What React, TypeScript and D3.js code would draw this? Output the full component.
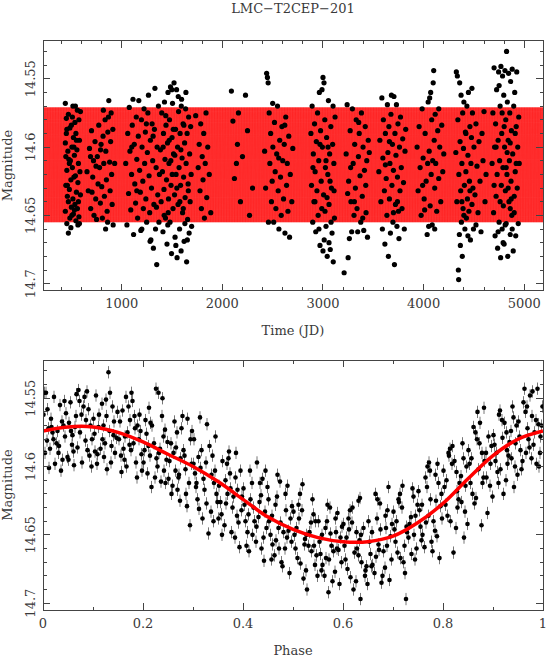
import React from "react";
import * as d3 from "d3";

const W = 547;
const H = 659;
const FONT = "'DejaVu Serif', serif";
const INK = "#3a3a3a";

// fitted model light curve
const modelPhase = [0, 0.05, 0.1, 0.15, 0.2, 0.25, 0.3, 0.35, 0.4, 0.45, 0.5, 0.55, 0.6, 0.65, 0.7, 0.75, 0.8, 0.85, 0.9, 0.95, 1];
const modelMag = [14.574, 14.571, 14.571, 14.575, 14.582, 14.591, 14.6, 14.611, 14.624, 14.637, 14.646, 14.652, 14.655, 14.655, 14.651, 14.641, 14.627, 14.609, 14.592, 14.58, 14.574];
const MODEL_PERIOD = 6.1; // days, only used to repeat the model along the time axis

const timeTicks = [1000, 2000, 3000, 4000, 5000];
const magTicks = [14.55, 14.6, 14.65, 14.7];
const phaseTicks = [0, 0.2, 0.4, 0.6, 0.8, 1];
const PHASE_ERR = 0.0045;

// observations: [time (JD), magnitude], one list per observing season
const seasonA: [number, number][] = [[440,14.568],[515,14.570],[560,14.573],[470,14.576],[590,14.574],[450,14.579],[535,14.582],[500,14.584],[575,14.580],[455,14.587],[545,14.590],[485,14.586],[520,14.593],[580,14.595],[440,14.597],[505,14.600],[465,14.603],[555,14.602],[445,14.607],[530,14.606],[490,14.610],[570,14.612],[475,14.609],[510,14.615],[585,14.618],[455,14.617],[540,14.621],[495,14.624],[565,14.626],[445,14.628],[525,14.622],[480,14.631],[550,14.633],[460,14.636],[515,14.638],[590,14.635],[470,14.640],[535,14.642],[500,14.644],[560,14.645],[440,14.647],[520,14.649],[575,14.651],[485,14.652],[545,14.654],[455,14.656],[505,14.650],[565,14.657],[495,14.659],[470,14.663],[530,14.646],[580,14.656],[460,14.628],[550,14.595],[510,14.578],[450,14.590],[540,14.570],[480,14.612],[570,14.640],[525,14.600]];
const seasonB: [number, number][] = [[655,14.618],[668,14.632],[680,14.601],[692,14.645],[700,14.588],[712,14.622],[720,14.610],[735,14.596],[742,14.638],[750,14.653],[758,14.607],[765,14.627],[772,14.584],[780,14.615],[788,14.641],[795,14.598],[802,14.629],[808,14.652],[815,14.592],[822,14.612],[828,14.636],[835,14.580],[842,14.603],[848,14.624],[855,14.647],[862,14.589],[868,14.578],[872,14.566],[880,14.611],[885,14.632],[890,14.596],[895,14.575],[900,14.620],[905,14.642],[912,14.587],[860,14.655],[790,14.602],[745,14.614],[705,14.633],[690,14.607],[725,14.650],[818,14.573],[840,14.660],[915,14.657],[930,14.612]];
const seasonC: [number, number][] = [[1040,14.612],[1052,14.657],[1060,14.590],[1068,14.634],[1075,14.571],[1082,14.603],[1090,14.646],[1098,14.620],[1105,14.584],[1112,14.565],[1118,14.664],[1125,14.598],[1130,14.627],[1138,14.641],[1145,14.578],[1150,14.609],[1158,14.652],[1165,14.592],[1170,14.566],[1178,14.617],[1185,14.633],[1190,14.661],[1196,14.580],[1202,14.600],[1210,14.625],[1215,14.645],[1222,14.572],[1228,14.612],[1235,14.589],[1240,14.638],[1248,14.655],[1255,14.604],[1260,14.575],[1266,14.562],[1272,14.621],[1278,14.648],[1285,14.595],[1290,14.668],[1296,14.630],[1302,14.583],[1308,14.610],[1315,14.674],[1320,14.642],[1325,14.587],[1330,14.557],[1336,14.660],[1342,14.615],[1348,14.686],[1352,14.600],[1358,14.635],[1365,14.570],[1370,14.655],[1375,14.620],[1200,14.660],[1150,14.632],[1100,14.600],[1245,14.583],[1282,14.669],[1312,14.592],[1345,14.644]];
const seasonD: [number, number][] = [[1385,14.602],[1392,14.640],[1398,14.575],[1405,14.618],[1410,14.662],[1415,14.590],[1420,14.631],[1425,14.567],[1430,14.609],[1435,14.652],[1440,14.584],[1445,14.624],[1450,14.671],[1455,14.597],[1460,14.560],[1465,14.638],[1470,14.612],[1475,14.580],[1480,14.655],[1485,14.556],[1490,14.628],[1495,14.678],[1500,14.593],[1505,14.568],[1510,14.645],[1515,14.605],[1520,14.553],[1525,14.635],[1530,14.666],[1535,14.587],[1540,14.620],[1545,14.558],[1550,14.681],[1555,14.600],[1560,14.642],[1565,14.574],[1570,14.615],[1575,14.660],[1580,14.590],[1585,14.628],[1590,14.676],[1595,14.565],[1600,14.608],[1605,14.648],[1610,14.583],[1615,14.622],[1620,14.669],[1625,14.597],[1630,14.637],[1635,14.572],[1640,14.612],[1645,14.684],[1650,14.590],[1655,14.653],[1660,14.627],[1665,14.578],[1670,14.663],[1675,14.605],[1680,14.640],[1685,14.585],[1690,14.620],[1695,14.658],[1412,14.600],[1438,14.577],[1462,14.648],[1488,14.610],[1512,14.587],[1538,14.672],[1562,14.563],[1588,14.602],[1612,14.645],[1638,14.560],[1662,14.632],[1458,14.657],[1502,14.620],[1548,14.630],[1592,14.570],[1628,14.656],[1472,14.595],[1528,14.606],[1578,14.640],[1618,14.584],[1652,14.668],[1422,14.650],[1498,14.558]];
const seasonE: [number, number][] = [[1735,14.577],[1760,14.615],[1770,14.598],[1778,14.632],[1785,14.583],[1792,14.645],[1800,14.607],[1808,14.624],[1815,14.590],[1822,14.652],[1830,14.612],[1838,14.575],[1845,14.637],[1855,14.600],[1870,14.620],[1885,14.648]];
const seasonF: [number, number][] = [[2090,14.559],[2230,14.562],[2105,14.581],[2150,14.598],[2120,14.623],[2180,14.640],[2140,14.612],[2200,14.607],[2250,14.588],[2270,14.650],[2300,14.630],[2160,14.575]];
const seasonG: [number, number][] = [[2440,14.546],[2448,14.549],[2455,14.553],[2465,14.575],[2472,14.612],[2480,14.590],[2488,14.640],[2495,14.625],[2502,14.600],[2510,14.655],[2518,14.582],[2525,14.618],[2532,14.645],[2540,14.605],[2548,14.570],[2555,14.632],[2562,14.660],[2570,14.595],[2578,14.622],[2585,14.650],[2592,14.585],[2600,14.610],[2608,14.638],[2615,14.598],[2622,14.663],[2630,14.578],[2638,14.628],[2645,14.612],[2652,14.647],[2660,14.592],[2668,14.666],[2675,14.620],[2420,14.603],[2430,14.630],[2458,14.655],[2500,14.568],[2560,14.608],[2620,14.584],[2690,14.640],[2700,14.601]];
const seasonH: [number, number][] = [[2880,14.590],[2886,14.628],[2892,14.570],[2898,14.655],[2904,14.605],[2910,14.640],[2916,14.583],[2922,14.618],[2928,14.662],[2934,14.596],[2940,14.632],[2946,14.575],[2952,14.650],[2958,14.610],[2964,14.560],[2970,14.672],[2976,14.588],[2982,14.625],[2988,14.645],[2994,14.600],[3000,14.549],[3006,14.635],[3012,14.668],[3018,14.580],[3024,14.615],[3030,14.658],[3036,14.593],[3042,14.680],[3048,14.620],[3054,14.566],[3060,14.642],[3066,14.605],[3072,14.675],[3078,14.585],[3084,14.630],[3090,14.663],[3096,14.598],[3102,14.684],[3108,14.612],[3114,14.652],[3120,14.578],[2990,14.558],[3010,14.553],[2960,14.660],[3050,14.600],[3000,14.676],[3070,14.625],[2920,14.640],[3100,14.570],[3030,14.610],[2900,14.615],[3060,14.670],[2970,14.598],[3040,14.637],[3080,14.655],[3110,14.632],[3020,14.647]];
const seasonI: [number, number][] = [[3210,14.692],[3250,14.681],[3230,14.605],[3240,14.569],[3255,14.625],[3262,14.667],[3270,14.588],[3278,14.640],[3285,14.662],[3292,14.572],[3300,14.612],[3308,14.650],[3315,14.598],[3322,14.630],[3330,14.580],[3338,14.645],[3345,14.662],[3352,14.607],[3360,14.590],[3368,14.621],[3375,14.655],[3382,14.575],[3390,14.636],[3398,14.600],[3405,14.661],[3412,14.617],[3420,14.585],[3428,14.648],[3435,14.610],[3442,14.666],[3450,14.595],[3245,14.634],[3275,14.615],[3312,14.640],[3355,14.582],[3395,14.652],[3425,14.628],[3460,14.604]];
const seasonJ: [number, number][] = [[3555,14.618],[3565,14.595],[3575,14.640],[3585,14.564],[3590,14.660],[3595,14.608],[3600,14.580],[3610,14.632],[3615,14.671],[3620,14.590],[3628,14.623],[3635,14.650],[3640,14.569],[3645,14.604],[3650,14.680],[3655,14.585],[3660,14.638],[3665,14.612],[3670,14.663],[3675,14.576],[3680,14.562],[3685,14.628],[3690,14.598],[3695,14.655],[3700,14.617],[3705,14.563],[3710,14.686],[3715,14.590],[3720,14.642],[3725,14.606],[3730,14.569],[3735,14.658],[3740,14.622],[3745,14.583],[3750,14.647],[3755,14.667],[3760,14.600],[3765,14.632],[3770,14.578],[3778,14.615],[3785,14.645],[3792,14.594],[3800,14.626],[3808,14.660],[3815,14.603],[3822,14.587],[3660,14.596],[3700,14.648],[3740,14.640],[3620,14.613]];
const seasonK: [number, number][] = [[3935,14.600],[3945,14.632],[3955,14.585],[3965,14.615],[3975,14.650],[3985,14.572],[3995,14.608],[4005,14.638],[4015,14.590],[4025,14.625],[4035,14.664],[4045,14.567],[4050,14.658],[4055,14.603],[4060,14.564],[4065,14.643],[4070,14.560],[4075,14.620],[4080,14.580],[4085,14.657],[4090,14.610],[4095,14.553],[4100,14.544],[4105,14.595],[4110,14.630],[4115,14.576],[4120,14.612],[4130,14.647],[4140,14.588],[4150,14.623],[4160,14.600],[4170,14.640],[4180,14.584],[4190,14.618],[4200,14.605],[4040,14.612],[4010,14.646],[4110,14.660],[4150,14.572],[3990,14.628]];
const seasonL: [number, number][] = [[4320,14.604],[4325,14.545],[4330,14.640],[4335,14.548],[4340,14.580],[4345,14.690],[4348,14.697],[4350,14.620],[4355,14.664],[4358,14.553],[4362,14.596],[4365,14.672],[4368,14.632],[4372,14.562],[4375,14.655],[4380,14.612],[4384,14.680],[4388,14.575],[4392,14.645],[4396,14.601],[4400,14.567],[4405,14.628],[4410,14.660],[4415,14.589],[4420,14.618],[4425,14.652],[4430,14.570],[4435,14.638],[4440,14.606],[4445,14.560],[4450,14.647],[4455,14.625],[4460,14.585],[4465,14.668],[4470,14.612],[4475,14.593],[4480,14.642],[4485,14.575],[4490,14.630],[4495,14.660],[4500,14.600],[4510,14.635],[4520,14.583],[4530,14.614],[4540,14.648],[4550,14.596],[4560,14.625],[4570,14.662],[4580,14.590],[4590,14.610],[4600,14.574],[4610,14.640],[4620,14.620],[4440,14.665],[4380,14.640],[4420,14.590],[4460,14.632],[4480,14.557],[4400,14.650],[4520,14.657]];
const seasonM: [number, number][] = [[4680,14.612],[4688,14.575],[4695,14.648],[4700,14.542],[4705,14.600],[4710,14.665],[4715,14.583],[4720,14.636],[4725,14.558],[4730,14.620],[4735,14.674],[4740,14.595],[4745,14.545],[4750,14.655],[4755,14.610],[4760,14.570],[4765,14.681],[4768,14.541],[4772,14.628],[4776,14.590],[4780,14.660],[4784,14.548],[4788,14.615],[4792,14.643],[4796,14.562],[4800,14.671],[4804,14.600],[4808,14.544],[4812,14.632],[4816,14.580],[4820,14.656],[4824,14.530],[4828,14.620],[4832,14.567],[4836,14.680],[4840,14.595],[4844,14.546],[4848,14.640],[4852,14.610],[4856,14.575],[4860,14.664],[4864,14.552],[4868,14.625],[4872,14.588],[4876,14.650],[4880,14.543],[4885,14.605],[4890,14.676],[4895,14.570],[4900,14.636],[4905,14.560],[4910,14.618],[4915,14.665],[4920,14.585],[4925,14.545],[4930,14.630],[4935,14.600],[4940,14.656],[4945,14.578],[4950,14.612],[4720,14.600],[4760,14.640],[4800,14.585],[4840,14.630],[4880,14.660],[4920,14.612],[4750,14.555],[4790,14.670],[4830,14.604],[4870,14.638],[4910,14.590],[4700,14.628],[4740,14.662],[4780,14.575],[4820,14.615],[4860,14.597],[4900,14.648],[4860,14.645],[4810,14.657]];

// phased observations: [phase, magnitude]
const phasedMax: [number, number][] = [[0.003,14.546],[0.017,14.571],[0.009,14.558],[0.031,14.590],[0.001,14.562],[0.044,14.578],[0.022,14.549],[0.012,14.601],[0.038,14.567],[0.027,14.583],[0.006,14.546],[0.049,14.593],[0.019,14.575],[0.034,14.555],[0.014,14.587],[0.041,14.570],[0.024,14.598],[0.008,14.581],[0.046,14.561],[0.029,14.574],[0.016,14.565],[0.036,14.603],[0.004,14.590],[0.021,14.580],[0.043,14.552],[0.032,14.585],[0.011,14.572],[0.039,14.595],
[0.052,14.568],[0.067,14.547],[0.058,14.584],[0.081,14.556],[0.093,14.592],[0.074,14.575],[0.062,14.599],[0.086,14.566],[0.055,14.553],[0.098,14.580],[0.071,14.544],[0.064,14.571],[0.089,14.588],[0.077,14.562],[0.051,14.595],[0.083,14.549],[0.069,14.586],[0.095,14.570],[0.059,14.577],[0.078,14.597],[0.091,14.558],[0.066,14.563],[0.085,14.581],[0.073,14.552],[0.097,14.600],[0.056,14.574],[0.088,14.545],[0.061,14.589],
[0.103,14.576],[0.118,14.554],[0.109,14.591],[0.131,14.531],[0.142,14.567],[0.124,14.583],[0.112,14.562],[0.136,14.597],[0.106,14.548],[0.147,14.579],[0.121,14.570],[0.128,14.602],[0.139,14.556],[0.115,14.587],[0.101,14.565],[0.144,14.590],[0.126,14.551],[0.133,14.574],[0.108,14.598],[0.149,14.560],[0.119,14.580],[0.137,14.585],[0.111,14.571],[0.127,14.563],[0.141,14.577],[0.104,14.589],[0.122,14.593],[0.134,14.546],
[0.152,14.580],[0.171,14.556],[0.163,14.595],[0.184,14.572],[0.157,14.604],[0.193,14.562],[0.176,14.588],[0.166,14.549],[0.188,14.608],[0.154,14.567],[0.181,14.583],[0.197,14.591],[0.169,14.575],[0.159,14.559],[0.186,14.597],[0.174,14.566],[0.192,14.580],[0.161,14.587],[0.179,14.552],[0.195,14.574],[0.167,14.600],[0.183,14.563],[0.156,14.592],[0.173,14.584],[0.189,14.570],[0.164,14.578],[0.198,14.603],[0.177,14.546],
[0.203,14.588],[0.218,14.570],[0.226,14.543],[0.209,14.605],[0.241,14.578],[0.231,14.546],[0.214,14.592],[0.236,14.611],[0.205,14.566],[0.247,14.595],[0.222,14.583],[0.229,14.600],[0.212,14.557],[0.244,14.573],[0.217,14.615],[0.234,14.587],[0.201,14.597],[0.238,14.563],[0.224,14.608],[0.249,14.582],[0.207,14.576],[0.232,14.590],[0.245,14.612],[0.215,14.568],[0.227,14.594],[0.239,14.550],[0.211,14.585],[0.242,14.603]];
const phasedDecline: [number, number][] = [[0.253,14.596],[0.268,14.575],[0.259,14.614],[0.281,14.588],[0.294,14.643],[0.272,14.606],[0.263,14.567],[0.286,14.620],[0.256,14.583],[0.297,14.598],[0.277,14.572],[0.265,14.603],[0.289,14.565],[0.274,14.625],[0.251,14.609],[0.283,14.592],[0.269,14.617],[0.295,14.580],[0.261,14.590],[0.279,14.563],[0.292,14.612],[0.266,14.586],[0.285,14.602],[0.257,14.620],[0.275,14.594],[0.298,14.574],[0.271,14.608],[0.288,14.629],
[0.304,14.605],[0.317,14.588],[0.309,14.624],[0.331,14.649],[0.342,14.612],[0.314,14.564],[0.326,14.597],[0.336,14.633],[0.302,14.580],[0.347,14.620],[0.321,14.609],[0.312,14.631],[0.339,14.592],[0.328,14.569],[0.306,14.615],[0.344,14.603],[0.319,14.638],[0.333,14.585],[0.301,14.598],[0.349,14.626],[0.323,14.617],[0.337,14.606],[0.311,14.593],[0.345,14.578],[0.327,14.627],[0.315,14.601],[0.341,14.640],[0.307,14.612],
[0.352,14.614],[0.368,14.598],[0.357,14.635],[0.381,14.622],[0.393,14.659],[0.374,14.605],[0.363,14.643],[0.386,14.590],[0.355,14.626],[0.397,14.632],[0.377,14.648],[0.365,14.610],[0.389,14.617],[0.371,14.594],[0.351,14.638],[0.384,14.652],[0.369,14.620],[0.395,14.603],[0.359,14.596],[0.379,14.630],[0.391,14.641],[0.366,14.627],[0.385,14.608],[0.358,14.650],[0.375,14.616],[0.398,14.622],[0.372,14.589],[0.388,14.636],
[0.403,14.628],[0.418,14.612],[0.409,14.648],[0.431,14.637],[0.442,14.669],[0.414,14.603],[0.426,14.655],[0.436,14.621],[0.405,14.640],[0.447,14.645],[0.421,14.630],[0.412,14.662],[0.439,14.609],[0.428,14.597],[0.401,14.616],[0.444,14.633],[0.419,14.650],[0.433,14.626],[0.407,14.658],[0.449,14.615],[0.423,14.640],[0.437,14.660],[0.411,14.635],[0.445,14.603],[0.427,14.644],[0.415,14.624],[0.441,14.652],[0.434,14.612],
[0.452,14.640],[0.468,14.622],[0.459,14.657],[0.481,14.648],[0.493,14.678],[0.474,14.611],[0.463,14.665],[0.486,14.632],[0.455,14.650],[0.497,14.655],[0.477,14.670],[0.465,14.628],[0.489,14.614],[0.471,14.645],[0.451,14.624],[0.484,14.660],[0.469,14.606],[0.495,14.638],[0.458,14.636],[0.479,14.673],[0.491,14.647],[0.466,14.654],[0.485,14.620],[0.457,14.668],[0.475,14.641],[0.498,14.629],[0.472,14.660],[0.488,14.652]];
const phasedMin: [number, number][] = [[0.503,14.650],[0.518,14.632],[0.509,14.667],[0.528,14.690],[0.542,14.658],[0.514,14.620],[0.526,14.676],[0.536,14.641],[0.505,14.660],[0.547,14.665],[0.521,14.682],[0.512,14.638],[0.539,14.624],[0.524,14.653],[0.501,14.633],[0.544,14.672],[0.519,14.613],[0.533,14.648],[0.507,14.645],[0.549,14.680],[0.523,14.657],[0.537,14.662],[0.511,14.628],[0.545,14.640],[0.527,14.650],[0.515,14.671],[0.541,14.635],[0.531,14.658],
[0.553,14.655],[0.568,14.640],[0.559,14.672],[0.581,14.662],[0.593,14.686],[0.574,14.630],[0.563,14.680],[0.586,14.648],[0.555,14.664],[0.597,14.670],[0.571,14.692],[0.565,14.645],[0.589,14.634],[0.577,14.658],[0.551,14.640],[0.584,14.677],[0.569,14.628],[0.595,14.652],[0.558,14.650],[0.579,14.684],[0.591,14.661],[0.566,14.667],[0.585,14.638],[0.557,14.676],[0.575,14.649],[0.598,14.644],[0.572,14.668],[0.588,14.660],
[0.603,14.658],[0.618,14.641],[0.609,14.675],[0.631,14.665],[0.635,14.697],[0.614,14.632],[0.626,14.684],[0.636,14.650],[0.605,14.668],[0.647,14.673],[0.621,14.690],[0.612,14.646],[0.634,14.623],[0.628,14.660],[0.601,14.642],[0.644,14.680],[0.619,14.630],[0.633,14.654],[0.607,14.652],[0.649,14.686],[0.623,14.663],[0.637,14.670],[0.611,14.638],[0.645,14.676],[0.627,14.648],[0.615,14.681],[0.641,14.645],[0.631,14.625],
[0.653,14.655],[0.668,14.638],[0.659,14.672],[0.681,14.662],[0.693,14.683],[0.674,14.627],[0.663,14.678],[0.686,14.645],[0.655,14.664],[0.697,14.668],[0.677,14.685],[0.665,14.620],[0.689,14.632],[0.671,14.657],[0.651,14.640],[0.684,14.674],[0.669,14.624],[0.695,14.651],[0.658,14.648],[0.679,14.680],[0.691,14.615],[0.666,14.666],[0.685,14.636],[0.657,14.673],[0.675,14.646],[0.698,14.642],[0.672,14.661],[0.688,14.658],
[0.703,14.646],[0.718,14.630],[0.709,14.663],[0.726,14.697],[0.742,14.650],[0.714,14.620],[0.724,14.678],[0.736,14.637],[0.705,14.655],[0.747,14.660],[0.721,14.670],[0.712,14.626],[0.739,14.616],[0.728,14.648],[0.701,14.633],[0.744,14.668],[0.719,14.614],[0.733,14.642],[0.707,14.640],[0.749,14.628],[0.723,14.658],[0.737,14.664],[0.711,14.624],[0.745,14.636],[0.727,14.644],[0.715,14.667],[0.741,14.622],[0.731,14.652]];
const phasedRise: [number, number][] = [[0.753,14.632],[0.768,14.615],[0.759,14.650],[0.781,14.640],[0.793,14.667],[0.774,14.603],[0.763,14.659],[0.786,14.625],[0.755,14.644],[0.797,14.620],[0.777,14.655],[0.765,14.608],[0.789,14.598],[0.771,14.636],[0.751,14.618],[0.784,14.647],[0.769,14.600],[0.795,14.629],[0.758,14.628],[0.779,14.662],[0.791,14.612],[0.766,14.641],[0.785,14.606],[0.757,14.654],[0.775,14.624],[0.798,14.638],[0.772,14.597],[0.788,14.651],
[0.803,14.615],[0.818,14.598],[0.809,14.636],[0.831,14.624],[0.842,14.652],[0.814,14.587],[0.826,14.645],[0.836,14.607],[0.805,14.628],[0.847,14.600],[0.821,14.663],[0.812,14.592],[0.839,14.583],[0.828,14.618],[0.801,14.603],[0.844,14.633],[0.819,14.585],[0.833,14.612],[0.807,14.610],[0.849,14.642],[0.823,14.596],[0.837,14.626],[0.811,14.590],[0.845,14.614],[0.827,14.604],[0.815,14.640],[0.841,14.594],[0.829,14.630],
[0.853,14.598],[0.868,14.580],[0.859,14.620],[0.881,14.608],[0.889,14.634],[0.874,14.568],[0.863,14.627],[0.886,14.590],[0.855,14.612],[0.897,14.585],[0.877,14.643],[0.865,14.575],[0.882,14.557],[0.871,14.602],[0.851,14.588],[0.894,14.614],[0.869,14.560],[0.883,14.596],[0.857,14.594],[0.899,14.622],[0.873,14.583],[0.887,14.608],[0.861,14.571],[0.895,14.598],[0.878,14.590],[0.866,14.623],[0.891,14.578],[0.879,14.612],
[0.903,14.584],[0.918,14.566],[0.909,14.604],[0.931,14.592],[0.942,14.615],[0.914,14.559],[0.926,14.610],[0.936,14.574],[0.905,14.596],[0.947,14.570],[0.921,14.620],[0.912,14.562],[0.939,14.556],[0.928,14.588],[0.901,14.577],[0.944,14.600],[0.919,14.579],[0.933,14.582],[0.907,14.590],[0.949,14.606],[0.923,14.568],[0.937,14.594],[0.911,14.612],[0.945,14.583],[0.927,14.575],[0.915,14.602],[0.941,14.564],[0.929,14.598],
[0.953,14.578],[0.968,14.556],[0.959,14.596],[0.981,14.584],[0.992,14.600],[0.974,14.548],[0.963,14.543],[0.986,14.566],[0.955,14.588],[0.997,14.570],[0.977,14.594],[0.965,14.560],[0.989,14.543],[0.971,14.580],[0.951,14.567],[0.994,14.590],[0.969,14.572],[0.983,14.575],[0.957,14.602],[0.999,14.556],[0.973,14.586],[0.987,14.598],[0.961,14.553],[0.995,14.578],[0.978,14.563],[0.966,14.590],[0.991,14.569],[0.979,14.545]];

const timeSeries = [seasonA, seasonB, seasonC, seasonD, seasonE, seasonF, seasonG, seasonH, seasonI, seasonJ, seasonK, seasonL, seasonM].flat();
const phased = [phasedMax, phasedDecline, phasedMin, phasedRise].flat();

// frame with inward ticks on all four sides, pgplot style
const Frame = ({ x, y, xMajor, xMinor, yMajor, yMinor }) => {
  const [x0, x1] = x.range();
  const [y0, y1] = y.range();
  const tick = (v, len, key) => (
    <g key={key}>
      <line x1={x(v)} x2={x(v)} y1={y1} y2={y1 - len} />
      <line x1={x(v)} x2={x(v)} y1={y0} y2={y0 + len} />
    </g>
  );
  const ytick = (v, len, key) => (
    <g key={key}>
      <line x1={x0} x2={x0 + len} y1={y(v)} y2={y(v)} />
      <line x1={x1} x2={x1 - len} y1={y(v)} y2={y(v)} />
    </g>
  );
  return (
    <g stroke="#444" strokeWidth={1} fill="none" shapeRendering="crispEdges">
      {xMinor.map((v, i) => tick(v, 3.5, "xm" + i))}
      {xMajor.map((v, i) => tick(v, 7, "xM" + i))}
      {yMinor.map((v, i) => ytick(v, 3.5, "ym" + i))}
      {yMajor.map((v, i) => ytick(v, 7, "yM" + i))}
      <rect x={x0} y={y0} width={x1 - x0} height={y1 - y0} />
    </g>
  );
};

const YLabels = ({ y, ticks, title }) => {
  const [y0, y1] = y.range();
  return (
    <g fill={INK} fontFamily={FONT} fontSize={13}>
      {ticks.map(v => (
        <text key={v} transform={`translate(35,${y(v)}) rotate(-90)`} textAnchor="middle">{String(v)}</text>
      ))}
      <text transform={`translate(12,${(y0 + y1) / 2}) rotate(-90)`} textAnchor="middle">{title}</text>
    </g>
  );
};

export default function App() {
  const left = 43, right = 543;
  const minorMags = d3.range(1453, 1471).map(v => v / 100).filter(v => !magTicks.includes(v));

  // upper panel: magnitude against time
  const xT = d3.scaleLinear().domain([218, 5186]).range([left, right]);
  const yT = d3.scaleLinear().domain([14.522, 14.705]).range([40.5, 290.5]);
  const timeMinor = d3.range(400, 5186, 200).filter(v => v % 1000 !== 0);

  const bandPts: [number, number][] = [];
  const [t0, t1] = xT.domain();
  for (let c = Math.floor(t0 / MODEL_PERIOD) - 1; c * MODEL_PERIOD < t1; c++) {
    modelPhase.forEach((p, i) => bandPts.push([(c + p) * MODEL_PERIOD, modelMag[i]]));
  }
  const bandLine = d3.line<[number, number]>().x(d => xT(d[0])).y(d => yT(d[1]));

  // lower panel: magnitude against phase
  const xP = d3.scaleLinear().domain([0, 1]).range([left, right]);
  const yP = d3.scaleLinear().domain([14.522, 14.705]).range([360, 610]);
  const phaseMinor = d3.range(1, 10, 2).map(v => v / 10);
  const modelLine = d3.line<number>()
    .x((_, i) => xP(modelPhase[i]))
    .y(d => yP(d))
    .curve(d3.curveCatmullRom);

  return (
    <svg width={W} height={H} style={{ position: "absolute", left: 0, top: 0, background: "#fff" }}>
      <defs>
        <clipPath id="clipTop"><rect x={left} y={40.5} width={right - left} height={250} /></clipPath>
        <clipPath id="clipBottom"><rect x={left} y={360} width={right - left} height={250} /></clipPath>
      </defs>
      <text x={(left + right) / 2} y={13} textAnchor="middle" fill={INK} fontFamily={FONT} fontSize={13}>
        LMC−T2CEP−201
      </text>

      {/* upper panel */}
      <g clipPath="url(#clipTop)">
        <path d={bandLine(bandPts)} fill="none" stroke="#ff0000" strokeWidth={0.5} strokeOpacity={0.9} />
        {timeSeries.map((d, i) => (
          <circle key={i} cx={xT(d[0])} cy={yT(d[1])} r={2.6} fill="#000" />
        ))}
      </g>
      <Frame x={xT} y={yT} xMajor={timeTicks} xMinor={timeMinor} yMajor={magTicks} yMinor={minorMags} />
      <g fill={INK} fontFamily={FONT} fontSize={13} textAnchor="middle">
        {timeTicks.map(v => (
          <text key={v} x={xT(v)} y={308}>{String(v)}</text>
        ))}
        <text x={(left + right) / 2} y={335}>Time (JD)</text>
      </g>
      <YLabels y={yT} ticks={magTicks} title="Magnitude" />

      {/* lower panel */}
      <g clipPath="url(#clipBottom)">
        <g stroke="#777" strokeWidth={1}>
          {phased.map((d, i) => (
            <line key={i} x1={xP(d[0])} x2={xP(d[0])} y1={yP(d[1] - PHASE_ERR)} y2={yP(d[1] + PHASE_ERR)} />
          ))}
        </g>
        {phased.map((d, i) => (
          <circle key={i} cx={xP(d[0])} cy={yP(d[1])} r={2.3} fill="#000" />
        ))}
        <path d={modelLine(modelMag)} fill="none" stroke="#ff0000" strokeWidth={3.5} />
      </g>
      <Frame x={xP} y={yP} xMajor={phaseTicks} xMinor={phaseMinor} yMajor={magTicks} yMinor={minorMags} />
      <g fill={INK} fontFamily={FONT} fontSize={13} textAnchor="middle">
        {phaseTicks.map(v => (
          <text key={v} x={xP(v)} y={628}>{String(v)}</text>
        ))}
        <text x={(left + right) / 2} y={655}>Phase</text>
      </g>
      <YLabels y={yP} ticks={magTicks} title="Magnitude" />
    </svg>
  );
}
